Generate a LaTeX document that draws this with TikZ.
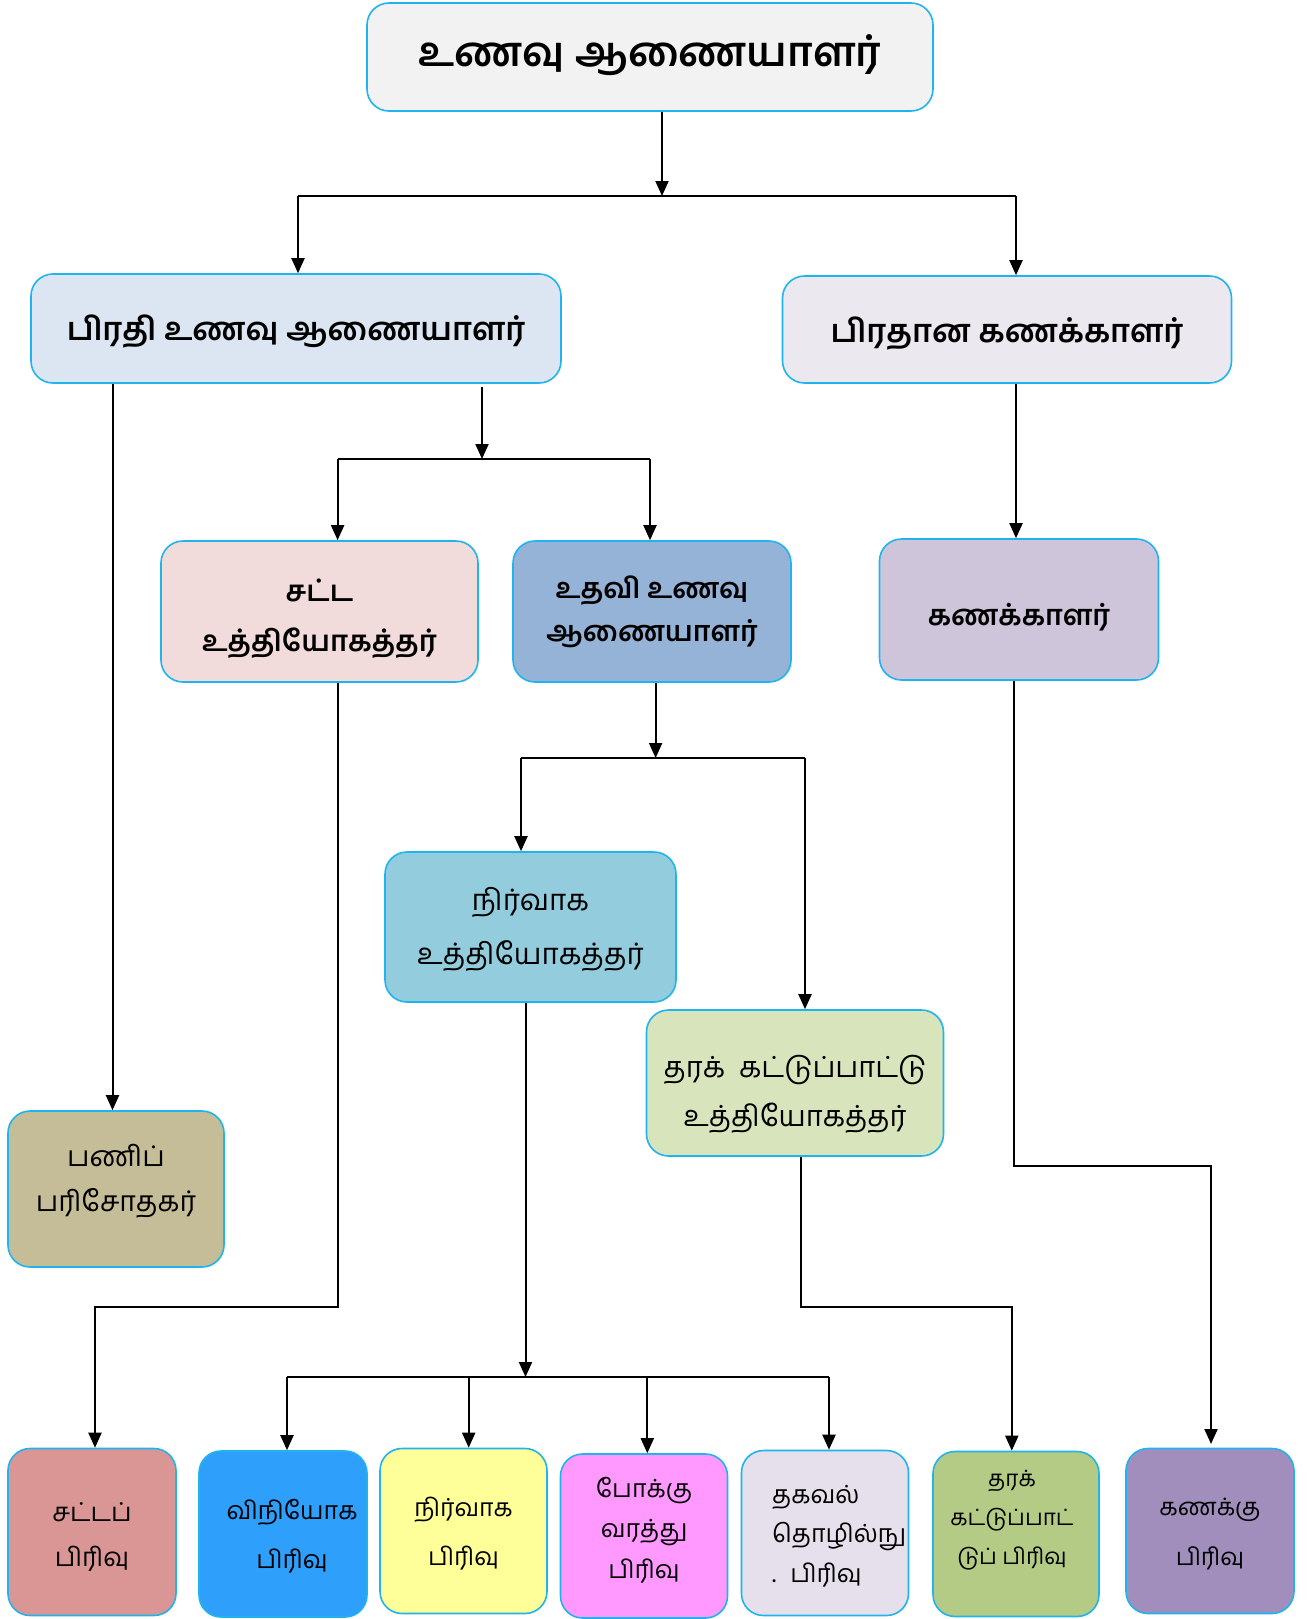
\documentclass[tikz,border=0pt]{standalone}
\usepackage{fontspec}
\newfontfamily\ta[Script=Tamil]{Hind Madurai}
\usetikzlibrary{arrows.meta}
\definecolor{bord}{HTML}{1FB4EE}
\definecolor{cTop}{HTML}{F2F2F2}
\definecolor{cB2}{HTML}{DCE6F2}
\definecolor{cB3}{HTML}{EBE8F0}
\definecolor{cSat}{HTML}{F2DCDB}
\definecolor{cUda}{HTML}{95B3D7}
\definecolor{cKan}{HTML}{CFC5DB}
\definecolor{cNir}{HTML}{93CDDD}
\definecolor{cTha}{HTML}{D8E4BC}
\definecolor{cPan}{HTML}{C4BD97}
\definecolor{cS1}{HTML}{D99694}
\definecolor{cS2}{HTML}{2E9FFB}
\definecolor{cS3}{HTML}{FFFF99}
\definecolor{cS4}{HTML}{FF99FF}
\definecolor{cS5}{HTML}{E6E0EC}
\definecolor{cS6}{HTML}{B4CB85}
\definecolor{cS7}{HTML}{A28EBD}
\newcommand\tf[3]{\ta#1\fontsize{#2}{#3}\selectfont}
\tikzset{
  box/.style={draw=bord, line width=1.6pt, rounded corners=22pt, inner sep=0pt},
  txt/.style={inner sep=0pt, align=center},
  conn/.style={line width=2pt, draw=black},
  arr/.style={conn, -{Triangle[length=15pt,width=13pt]}},
}
\begin{document}
\begin{tikzpicture}[x=1pt,y=-1pt]
\useasboundingbox (0,0) rectangle (1306,1619);
% boxes
\node[box, fill=cTop, minimum width=566pt, minimum height=108pt] (top) at (650,57) {};
\node[box, fill=cB2, minimum width=530pt, minimum height=109pt] (b2) at (296,328.5) {};
\node[box, fill=cB3, minimum width=449pt, minimum height=107pt] (b3) at (1007,329.5) {};
\node[box, fill=cSat, minimum width=317pt, minimum height=141pt] (sat) at (319.5,611.5) {};
\node[box, fill=cUda, minimum width=278pt, minimum height=141pt] (uda) at (652,611.5) {};
\node[box, fill=cKan, minimum width=279pt, minimum height=141pt] (kan) at (1019,609.5) {};
\node[box, fill=cNir, minimum width=291pt, minimum height=150pt] (nir) at (530.5,927) {};
\node[box, fill=cTha, minimum width=297pt, minimum height=146pt] (tha) at (795,1083) {};
\node[box, fill=cPan, minimum width=216pt, minimum height=156pt] (pan) at (116,1189) {};
\node[box, fill=cS1, minimum width=168pt, minimum height=167pt] (s1) at (92,1532) {};
\node[box, fill=cS2, minimum width=168pt, minimum height=166pt] (s2) at (283,1534) {};
\node[box, fill=cS3, minimum width=167pt, minimum height=165pt] (s3) at (463.5,1531) {};
\node[box, fill=cS4, minimum width=167pt, minimum height=164pt] (s4) at (644,1536) {};
\node[box, fill=cS5, minimum width=167pt, minimum height=165pt] (s5) at (825,1533) {};
\node[box, fill=cS6, minimum width=166pt, minimum height=165pt] (s6) at (1016,1534) {};
\node[box, fill=cS7, minimum width=168pt, minimum height=165pt] (s7) at (1210,1531) {};
% texts
\node[txt, font=\tf\bfseries{41}{48}] (topT) at ([yshift=2pt]top.center) {உணவு ஆணையாளர்};
\node[txt, font=\tf\bfseries{32}{40}] (b2T) at ([yshift=-3pt]b2.center) {பிரதி உணவு ஆணையாளர்};
\node[txt, font=\tf\bfseries{32}{40}] (b3T) at ([yshift=-4pt]b3.center) {பிரதான கணக்காளர்};
\node[txt, font=\tf\bfseries{29}{49.5}] (satT) at ([yshift=-7pt]sat.center) {சட்ட\\உத்தியோகத்தர்};
\node[txt, font=\tf\bfseries{28.3}{43}] (udaT) at (uda.center) {உதவி உணவு\\ஆணையாளர்};
\node[txt, font=\tf\bfseries{28.5}{40}] (kanT) at ([yshift=-8pt]kan.center) {கணக்காளர்};
\node[txt, font=\tf\mdseries{29.5}{54}] (nirT) at ([yshift=-2.5pt]nir.center) {நிர்வாக\\உத்தியோகத்தர்};
\node[txt, font=\tf\mdseries{29}{48.5}] (thaT) at ([yshift=-11pt]tha.center) {தரக்\ \ கட்டுப்பாட்டு\\உத்தியோகத்தர்};
\node[txt, font=\tf\mdseries{28.4}{44.4}] (panT) at ([yshift=8pt]pan.center) {பணிப்\\பரிசோதகர்};
\node[txt, font=\tf\mdseries{26}{44.4}] (s1T) at ([yshift=-5pt]s1.center) {சட்டப்\\பிரிவு};
\node[txt, font=\tf\mdseries{25}{49.5}] (s2T) at ([xshift=9pt,yshift=-2pt]s2.center) {விநியோக\\பிரிவு};
\node[txt, font=\tf\mdseries{24.8}{49.5}] (s3T) at ([yshift=-2.5pt]s3.center) {நிர்வாக\\பிரிவு};
\node[txt, font=\tf\mdseries{25}{40.2}] (s4T) at ([yshift=6pt]s4.center) {போக்கு\\வரத்து\\பிரிவு};
\node[txt, align=left, anchor=west, font=\tf\mdseries{25}{39.7}] (s5T) at (772,1536) {தகவல்\\தொழில்நு\\.\hspace{14pt}பிரிவு};
\node[txt, font=\tf\mdseries{22.5}{39.2}] (s6T) at (1012,1520) {தரக்\\கட்டுப்பாட்\\டுப் பிரிவு};
\node[txt, font=\tf\mdseries{24}{49.5}] (s7T) at ([yshift=-3pt]s7.center) {கணக்கு\\பிரிவு};
% junctions
\coordinate (j1) at (662,196);
\coordinate (j2) at (482,459);
\coordinate (j3) at (655.6,758);
\coordinate (j4) at (525.5,1377);
\coordinate (k1) at (337.6,1307);
\coordinate (k2) at (801,1307);
\coordinate (k3) at (1013.8,1165.6);
% connectors
\draw[arr] (top.south -| j1) -- (j1);
\draw[conn] (298,196) coordinate (j1l) -- (1016,196) coordinate (j1r);
\draw[arr] (j1l) -- (j1l |- b2.north);
\draw[arr] (j1r) -- (j1r |- b3.north);
\draw[arr] (b2.south -| 112.5,0) -- (pan.north -| 112.5,0);
\draw[arr] (b2.south -| j2) ++(0,3) -- (j2);
\draw[conn] (337.6,459) coordinate (j2l) -- (650,459) coordinate (j2r);
\draw[arr] (j2l) -- (j2l |- sat.north);
\draw[arr] (j2r) -- (j2r |- uda.north);
\draw[arr] (b3.south -| 1016,0) -- (kan.north -| 1016,0);
\draw[arr] (uda.south -| j3) -- (j3);
\draw[conn] (521,758) coordinate (j3l) -- (805,758) coordinate (j3r);
\draw[arr] (j3l) -- (j3l |- nir.north);
\draw[arr] (j3r) -- (j3r |- tha.north);
\draw[arr] (sat.south -| k1) -- (k1) -- (95,1307) -- (s1.north -| 95,0);
\draw[arr] (nir.south -| j4) -- (j4);
\draw[conn] (287,1377) coordinate (ja) -- (829,1377) coordinate (jd);
\coordinate (jb) at (468.7,1377);
\coordinate (jc) at (647.3,1377);
\draw[arr] (ja) -- (ja |- s2.north);
\draw[arr] (jb) -- (jb |- s3.north);
\draw[arr] (jc) -- (jc |- s4.north);
\draw[arr] (jd) -- (jd |- s5.north);
\draw[arr] (tha.south -| k2) -- (k2) -- (1011.8,1307) -- (s6.north -| 1011.8,0);
\draw[arr] (kan.south -| k3) -- (k3) -- (1211,1165.6) -- (1211,1444);
\end{tikzpicture}
\end{document}
